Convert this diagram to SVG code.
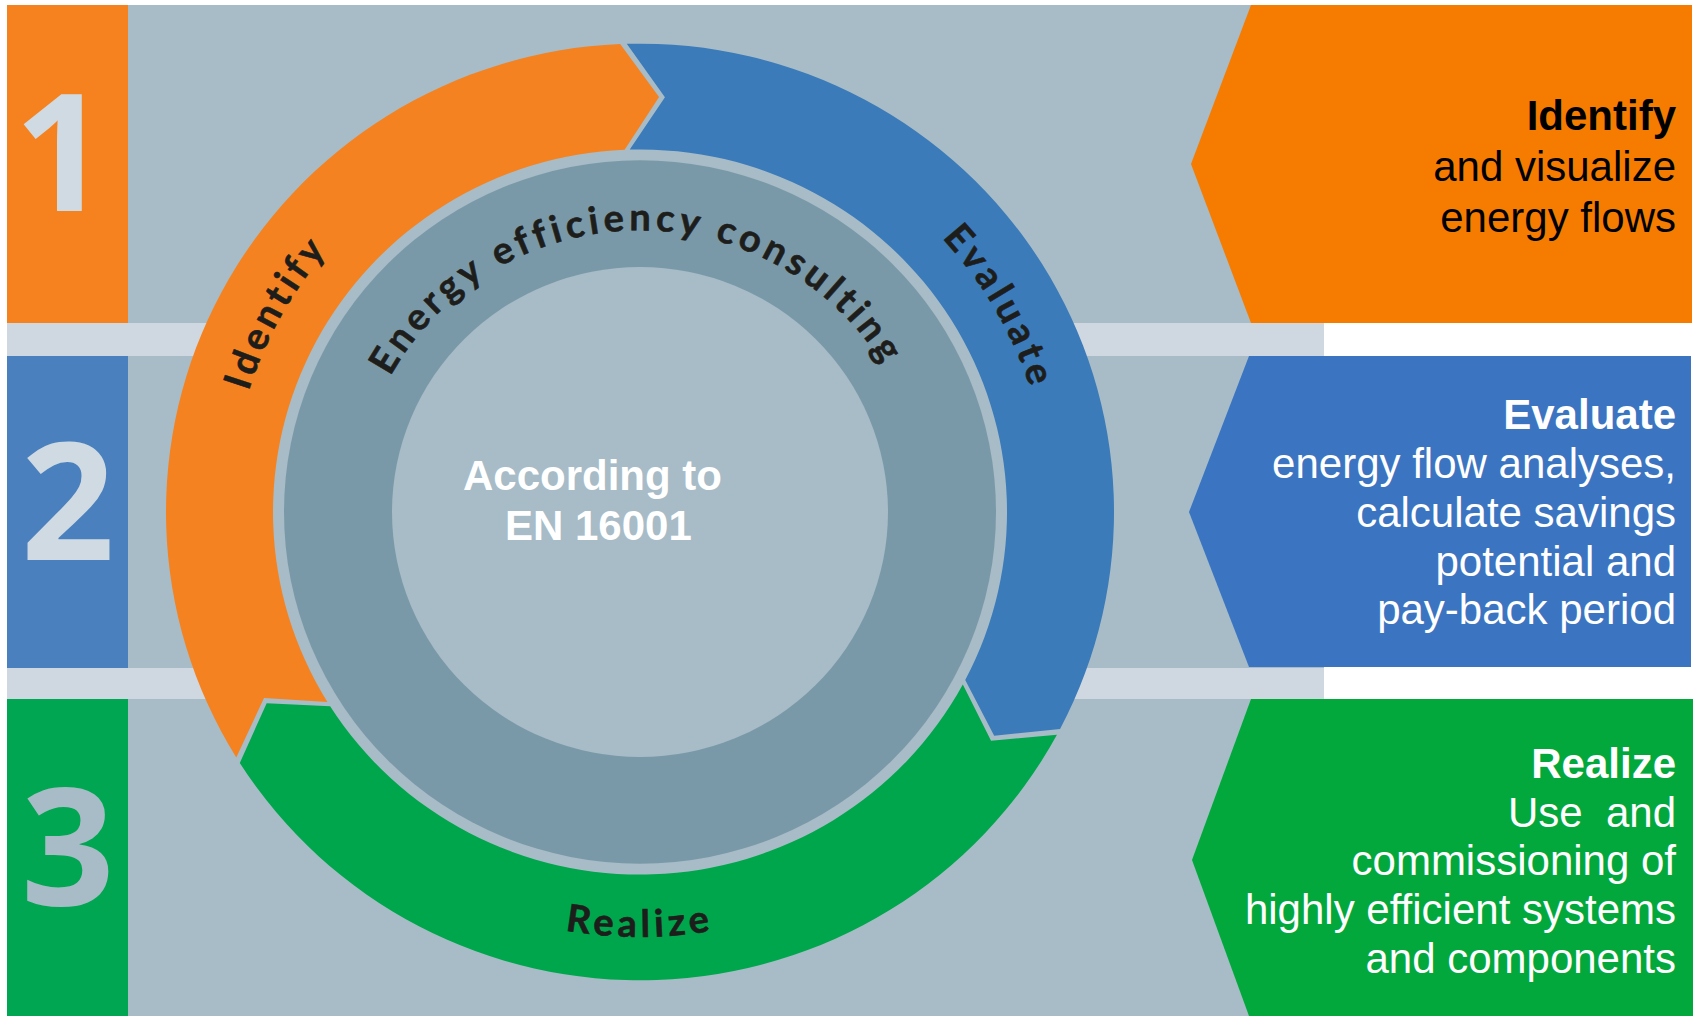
<svg xmlns="http://www.w3.org/2000/svg" width="1698" height="1016" viewBox="0 0 1698 1016">
<defs>
<style>
.bg{fill:#a7bcc7}
.bar{fill:#cfd8e0}
.num{font-family:"Open Sans","DejaVu Sans",sans-serif;font-weight:700;font-size:164px;text-anchor:middle}
.ring{font-family:Lato,"Open Sans",sans-serif;font-weight:700;font-size:38px;fill:#1d1d1b;stroke:#1d1d1b;stroke-width:0.6px;letter-spacing:4.5px}
.ptxt{font-family:"Liberation Sans",Arial,sans-serif;font-size:42px;text-anchor:end}
.h{font-weight:700}
.ctr{font-family:"Liberation Sans",Arial,sans-serif;font-size:42px;font-weight:700;fill:#ffffff}
</style>
<path id="cw410" d="M0,410 A410,410 0 1,1 0,-410 A410,410 0 1,1 0,410"/>
<path id="cw285" d="M0,285 A285,285 0 1,1 0,-285 A285,285 0 1,1 0,285"/>
<path id="ccw430" d="M0,-430 A430,430 0 1,0 0,430 A430,430 0 1,0 0,-430"/>
</defs>
<rect width="1698" height="1016" fill="#ffffff"/>
<rect class="bg" x="7" y="5" width="1317" height="1011"/>
<rect class="bar" x="7" y="323" width="1317" height="33"/>
<rect class="bar" x="7" y="668" width="1317" height="31"/>

<g id="strip-1">
<rect x="7" y="5" width="121" height="318" fill="#f5821f"/>
<text class="num" x="61" y="211" fill="#d0dae2">1</text>
</g>
<g id="strip-2">
<rect x="7" y="356" width="121" height="312" fill="#4a80bd"/>
<text class="num" x="68" y="560" fill="#d0dae2">2</text>
</g>
<g id="strip-3">
<rect x="7" y="699" width="121" height="317" fill="#00a651"/>
<text class="num" x="68" y="905" fill="#a7bcc7">3</text>
</g>

<g id="cycle" transform="translate(640,512) scale(1,0.988)">
<circle class="bg" r="472"/>
<g id="seg-identify">
<path fill="#f58220" d="M-403.72,248.37 A474,474 0 0,1 -19.85,-473.58 L19.08,-420.07 L-15.37,-366.68 A367,367 0 0,0 -312.58,192.30 L-375.99,188.28 Z"/>
<text class="ring"><textPath href="#cw410" startOffset="33.06%" text-anchor="middle">Identify</textPath></text>
</g>
<g id="seg-evaluate">
<path fill="#3b7bb9" d="M-13.24,-473.82 A474,474 0 0,1 420.06,219.60 L354.19,226.55 L325.24,170.03 A367,367 0 0,0 -10.25,-366.86 L24.94,-419.76 Z"/>
<text class="ring"><textPath href="#cw410" startOffset="66.67%" text-anchor="middle">Evaluate</textPath></text>
</g>
<g id="seg-realize">
<path fill="#00a64c" d="M416.95,225.44 A474,474 0 0,1 -400.21,253.98 L-373.33,193.51 L-309.87,196.65 A367,367 0 0,0 322.83,174.55 L351.06,231.48 Z"/>
<text class="ring"><textPath href="#ccw430" startOffset="50%" text-anchor="middle">Realize</textPath></text>
</g>
<g id="consulting-ring">
<circle r="356" fill="#7a99a8"/>
<text class="ring"><textPath href="#cw285" startOffset="49.72%" text-anchor="middle">Energy efficiency consulting</textPath></text>
</g>
<g id="center">
<circle class="bg" r="248"/>
</g>
</g>
<g id="center-text">
<text class="ctr" x="463" y="490">According to</text>
<text class="ctr" x="505" y="540">EN 16001</text>
</g>

<g id="panel-identify">
<polygon fill="#f57c00" points="1251,5 1692,5 1692,323 1251,323 1191,164"/>
<text class="ptxt" fill="#000000"><tspan class="h" x="1676" y="130">Identify</tspan><tspan x="1676" y="181">and visualize</tspan><tspan x="1676" y="232">energy flows</tspan></text>
</g>
<g id="panel-evaluate">
<polygon fill="#3b74c1" points="1249,356 1691,356 1691,667 1249,667 1189,512"/>
<text class="ptxt" fill="#ffffff"><tspan class="h" x="1676" y="429">Evaluate</tspan><tspan x="1676" y="478">energy flow analyses,</tspan><tspan x="1676" y="527">calculate savings</tspan><tspan x="1676" y="576">potential and</tspan><tspan x="1676" y="624">pay-back period</tspan></text>
</g>
<g id="panel-realize">
<polygon fill="#03a83d" points="1251,699 1693,699 1693,1016 1249,1016 1192,860"/>
<text class="ptxt" fill="#ffffff" xml:space="preserve"><tspan class="h" x="1676" y="778">Realize</tspan><tspan x="1676" y="826.5">Use  and</tspan><tspan x="1676" y="875">commissioning of</tspan><tspan x="1676" y="924">highly efficient systems</tspan><tspan x="1676" y="972.5">and components</tspan></text>
</g>
<g id="connectors"/>
</svg>
